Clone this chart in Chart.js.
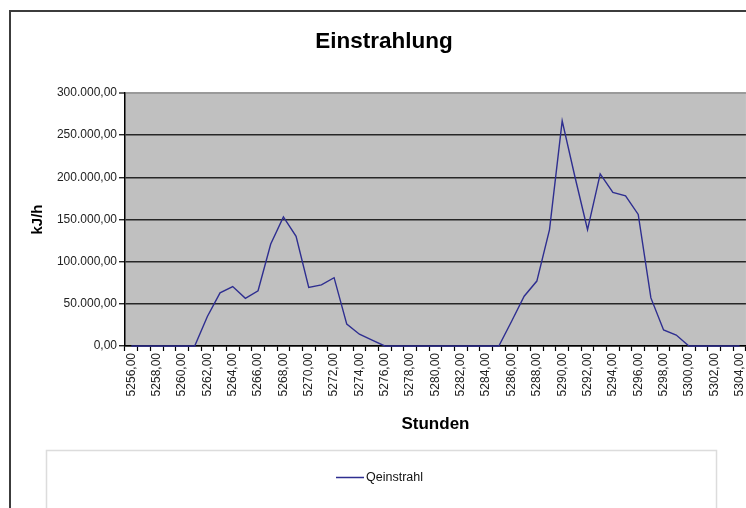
<!DOCTYPE html>
<html>
<head>
<meta charset="utf-8">
<script src="https://cdn.jsdelivr.net/npm/chart.js@4/dist/chart.umd.min.js"></script>
<style>
  html, body { margin: 0; padding: 0; background: #fff; overflow: hidden; }
  #wrap { position: relative; width: 746px; height: 508px; overflow: hidden; }
  canvas { display: block; }
</style>
</head>
<body>
<div id="wrap"><canvas id="c" width="756" height="508"></canvas></div>
<script>
// ---- data ----
const hours = [5256,5257,5258,5259,5260,5261,5262,5263,5264,5265,5266,5267,5268,5269,5270,5271,5272,5273,5274,5275,5276,5277,5278,5279,5280,5281,5282,5283,5284,5285,5286,5287,5288,5289,5290,5291,5292,5293,5294,5295,5296,5297,5298,5299,5300,5301,5302,5303,5304];
const qeinstrahl = [0,0,0,0,0,0,35000,63000,70500,56500,65500,121000,153000,130000,69500,72500,81000,26000,14000,7000,0,0,0,0,0,0,0,0,0,0,29000,59000,77000,138000,267000,201000,138000,204000,182000,178000,156000,57000,19000,13000,0,0,0,0,0];
const seriesName = 'Qeinstrahl';
const yTicks = [0, 50000, 100000, 150000, 200000, 250000, 300000];
const chartTitle = 'Einstrahlung';
const xTitle = 'Stunden';
const yTitle = 'kJ/h';

function fmtDE(v, group) {
  const neg = v < 0; v = Math.abs(v);
  const fixed = v.toFixed(2);
  let [ip, dp] = fixed.split('.');
  if (group) ip = ip.replace(/\B(?=(\d{3})+(?!\d))/g, '.');
  return (neg ? '-' : '') + ip + ',' + dp;
}

const FONT = "'Liberation Sans', Arial, sans-serif";
const VIEW_W = 746;

const decor = {
  id: 'decor',
  beforeDraw(chart) {
    const ctx = chart.ctx, a = chart.chartArea;
    ctx.save();
    ctx.fillStyle = '#ffffff';
    ctx.fillRect(0, 0, chart.width, chart.height);
    // outer chart frame
    ctx.strokeStyle = '#3c3c3c';
    ctx.lineWidth = 2;
    ctx.beginPath();
    ctx.moveTo(10, chart.height + 2);
    ctx.lineTo(10, 11);
    ctx.lineTo(chart.width + 2, 11);
    ctx.stroke();
    // plot area background
    ctx.fillStyle = '#c0c0c0';
    ctx.fillRect(a.left, a.top, a.right - a.left, a.bottom - a.top);
    // legend box
    ctx.strokeStyle = '#dcdcdc';
    ctx.lineWidth = 1.5;
    ctx.strokeRect(46.5, 450.5, 670, 120);
    ctx.restore();
  },
  afterDraw(chart) {
    const ctx = chart.ctx, a = chart.chartArea;
    ctx.save();
    ctx.fillStyle = '#000';
    ctx.textAlign = 'center';
    ctx.textBaseline = 'middle';
    ctx.font = 'bold 22.5px ' + FONT;
    ctx.fillText(chartTitle, 384, 42);
    ctx.font = 'bold 17px ' + FONT;
    ctx.fillText(xTitle, (a.left + a.right) / 2, 424);
    ctx.save();
    ctx.translate(38, (a.top + a.bottom) / 2);
    ctx.rotate(-Math.PI / 2);
    ctx.font = 'bold 15px ' + FONT;
    ctx.fillText(yTitle, 0, 0);
    ctx.restore();
    // legend
    const ds = chart.data.datasets[0];
    ctx.strokeStyle = ds.borderColor;
    ctx.lineWidth = 1.5;
    ctx.beginPath();
    ctx.moveTo(336, 477.5);
    ctx.lineTo(364, 477.5);
    ctx.stroke();
    ctx.fillStyle = '#111';
    ctx.textAlign = 'left';
    ctx.font = '12.5px ' + FONT;
    ctx.fillText(ds.label, 366, 478);
    ctx.restore();
  }
};

new Chart(document.getElementById('c'), {
  type: 'line',
  data: {
    labels: hours,
    datasets: [{
      label: seriesName,
      data: qeinstrahl,
      borderColor: '#2e2e90',
      borderWidth: 1.4,
      pointRadius: 0,
      tension: 0,
      fill: false,
      clip: false
    }]
  },
  options: {
    responsive: false,
    animation: false,
    devicePixelRatio: 1,
    layout: { padding: { top: 93, left: 0, right: 0, bottom: 0 } },
    plugins: { legend: { display: false }, title: { display: false }, tooltip: { enabled: false } },
    scales: {
      x: {
        type: 'category',
        offset: true,
        grid: { display: true, drawOnChartArea: false, drawTicks: true, tickLength: 5, tickColor: '#000', tickWidth: 1.2, offset: true },
        border: { display: true, color: '#000', width: 1.5 },
        ticks: {
          autoSkip: false, maxRotation: 90, minRotation: 90, padding: 2,
          color: '#222', font: { family: FONT, size: 12 },
          callback: (v, i) => (i % 2 === 0 ? fmtDE(hours[i], false) : '')
        },
        afterFit(s) { s.height = 508 - 346; }
      },
      y: {
        min: yTicks[0], max: yTicks[yTicks.length - 1],
        afterBuildTicks(s) { s.ticks = yTicks.map(v => ({ value: v })); },
        grid: {
          color: c => (c.tick && c.tick.value === 300000 ? '#9a9a9a' : '#262626'),
          lineWidth: c => (c.tick && c.tick.value === 300000 ? 2 : 1.5),
          drawTicks: true, tickLength: 6, tickColor: '#000', tickWidth: 1.2
        },
        border: { display: true, color: '#000', width: 1.5 },
        ticks: {
          padding: 2, color: '#222', font: { family: FONT, size: 12 },
          callback: v => fmtDE(v, true)
        },
        afterFit(s) { s.width = 125; }
      }
    }
  },
  plugins: [decor]
});
</script>
</body>
</html>
